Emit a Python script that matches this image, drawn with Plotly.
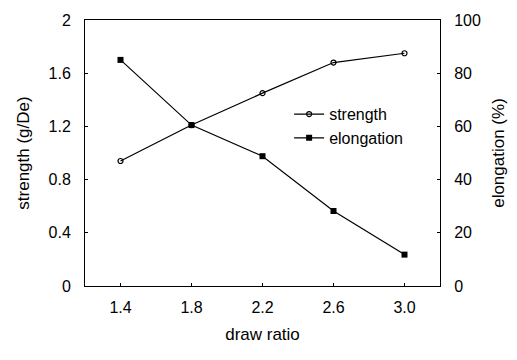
import plotly.graph_objects as go

draw_ratio = [1.4, 1.8, 2.2, 2.6, 3.0]
strength = [0.94, 1.21, 1.45, 1.68, 1.75]
elongation = [85, 60.5, 48.8, 28.2, 11.8]
x_ticks = [1.4, 1.8, 2.2, 2.6, 3.0]
x_ticktext = ["1.4", "1.8", "2.2", "2.6", "3.0"]
y1_ticks = [0, 0.4, 0.8, 1.2, 1.6, 2]
y1_ticktext = ["0", "0.4", "0.8", "1.2", "1.6", "2"]
y2_ticks = [0, 20, 40, 60, 80, 100]

FONT = "Liberation Sans, Arial, sans-serif"

fig = go.Figure()
fig.add_trace(go.Scatter(
    x=draw_ratio, y=strength, name="strength", mode="lines+markers",
    line=dict(color="black", width=1.2),
    marker=dict(symbol="circle-open", size=5, color="black", line=dict(width=1.2)),
    yaxis="y"))
fig.add_trace(go.Scatter(
    x=draw_ratio, y=elongation, name="elongation", mode="lines+markers",
    line=dict(color="black", width=1.2),
    marker=dict(symbol="square", size=6, color="black"),
    yaxis="y2"))

fig.update_layout(
    width=517, height=360,
    margin=dict(l=85, r=75, t=18, b=74),
    paper_bgcolor="white", plot_bgcolor="white",
    font=dict(family=FONT, size=14, color="black"),
    showlegend=True,
    legend=dict(x=0.575, y=0.71, xanchor="left", yanchor="top",
                bgcolor="rgba(0,0,0,0)", font=dict(size=16),
                itemwidth=30, tracegroupgap=0),
    xaxis=dict(range=[1.2, 3.2], tickvals=x_ticks, ticktext=x_ticktext,
               ticks="inside", ticklen=3, tickcolor="black",
               tickfont=dict(size=16),
               showline=True, linecolor="black", linewidth=1, mirror=True,
               showgrid=False, zeroline=False,
               title=dict(text="draw ratio", standoff=12),
               ticklabelstandoff=7),
    yaxis=dict(range=[0, 2], tickvals=y1_ticks, ticktext=y1_ticktext,
               ticks="inside", ticklen=3, tickcolor="black",
               tickfont=dict(size=16),
               showline=True, linecolor="black", linewidth=1,
               showgrid=False, zeroline=False,
               title=dict(text="strength (g/De)", standoff=14),
               ticklabelstandoff=10),
    yaxis2=dict(range=[0, 100], tickvals=y2_ticks, overlaying="y", side="right",
                ticks="inside", ticklen=3, tickcolor="black",
                tickfont=dict(size=16),
                showline=True, linecolor="black", linewidth=1,
                showgrid=False, zeroline=False,
                title=dict(text="elongation (%)", standoff=12),
                ticklabelstandoff=10),
)

fig.write_html("out.html")
